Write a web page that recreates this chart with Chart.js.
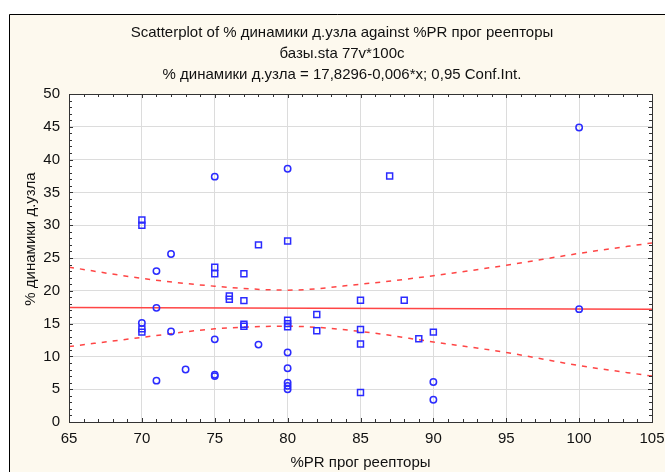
<!DOCTYPE html>
<html>
<head>
<meta charset="utf-8">
<script src="https://cdn.jsdelivr.net/npm/chart.js@4.4.1/dist/chart.umd.min.js"></script>
<style>
  html, body { margin: 0; padding: 0; background: #fff; }
  #wrap { width: 665px; height: 472px; }
</style>
</head>
<body>
<div id="wrap"><canvas id="plot" width="665" height="472"></canvas></div>
<script>
// observations drawn as circles
const circleX = [72, 75, 71, 71, 70, 72, 75, 78, 73, 75, 75, 71, 80, 80, 80, 80, 80, 80, 90, 90, 100, 100];
const circleY = [25.6, 37.4, 23.0, 17.4, 15.1, 13.8, 12.6, 11.8, 8.0, 7.2, 7.0, 6.3, 38.6, 10.6, 8.2, 6.0, 5.5, 5.0, 6.1, 3.4, 44.9, 17.2];
// observations drawn as squares
const squareX = [70, 70, 78, 75, 75, 77, 76, 76, 77, 70, 70, 77, 77, 87, 80, 85, 88, 82, 80, 80, 80, 82, 85, 89, 90, 85, 85];
const squareY = [30.8, 30.0, 27.0, 23.6, 22.6, 22.6, 19.2, 18.7, 18.5, 14.2, 13.7, 14.9, 14.6, 37.5, 27.6, 18.55, 18.55, 16.4, 15.5, 15.0, 14.5, 13.9, 14.1, 12.7, 13.7, 11.9, 4.5];
// regression line and 0.95 confidence band
const fitX = [65, 105];
const fitY = [17.44, 17.2];
const bandX = [65, 70, 75, 80, 85, 90, 95, 100, 105];
const upperBand = [23.6, 21.9, 20.7, 20.1, 21.0, 22.3, 23.9, 25.7, 27.3];
const lowerBand = [11.5, 12.9, 14.2, 14.6, 13.8, 12.2, 10.6, 8.6, 7.0];

const titleLines = [
  'Scatterplot of % динамики д.узла against %PR прог реепторы',
  'базы.sta 77v*100c',
  '% динамики д.узла = 17,8296-0,006*x; 0,95 Conf.Int.'
];
const xTitle = '%PR прог реепторы';
const yTitle = '% динамики д.узла';

const FONT = 'Liberation Sans, Arial, sans-serif';
const pts = (xs, ys) => xs.map((x, i) => ({ x: x, y: ys[i] }));

const frame = {
  id: 'frame',
  beforeDraw(chart) {
    const { ctx, chartArea: a } = chart;
    ctx.save();
    ctx.fillStyle = '#ffffff';
    ctx.fillRect(0, 0, chart.width, chart.height);
    ctx.fillStyle = '#fdf9ee';
    ctx.fillRect(9, 14, chart.width - 9, chart.height - 14);
    ctx.strokeStyle = '#000';
    ctx.lineWidth = 1;
    ctx.beginPath();
    ctx.moveTo(9.5, chart.height);
    ctx.lineTo(9.5, 14.5);
    ctx.lineTo(chart.width, 14.5);
    ctx.stroke();
    ctx.fillStyle = '#ffffff';
    ctx.fillRect(a.left, a.top, a.right - a.left, a.bottom - a.top);
    ctx.restore();
  },
  afterDraw(chart) {
    const { ctx, chartArea: a, scales } = chart;
    ctx.save();
    ctx.strokeStyle = '#333';
    ctx.lineWidth = 1;
    ctx.strokeRect(Math.round(a.left) + 0.5, Math.round(a.top) + 0.5,
      Math.round(a.right - a.left), Math.round(a.bottom - a.top));
    // minor ticks, pointing inward
    ctx.beginPath();
    for (let v = 65; v <= 105; v++) {
      const px = Math.round(scales.x.getPixelForValue(v)) + 0.5;
      const len = v % 5 === 0 ? 4 : 3;
      ctx.moveTo(px, a.bottom); ctx.lineTo(px, a.bottom - len);
      ctx.moveTo(px, a.top); ctx.lineTo(px, a.top + len);
    }
    for (let v = 0; v <= 50; v++) {
      const py = Math.round(scales.y.getPixelForValue(v)) + 0.5;
      const len = v % 5 === 0 ? 4 : 3;
      ctx.moveTo(a.left, py); ctx.lineTo(a.left + len, py);
      ctx.moveTo(a.right, py); ctx.lineTo(a.right - len, py);
    }
    ctx.stroke();
    // y axis title
    ctx.fillStyle = '#111';
    ctx.font = '15px ' + FONT;
    ctx.textAlign = 'center';
    ctx.textBaseline = 'middle';
    ctx.translate(31, 239);
    ctx.rotate(-Math.PI / 2);
    ctx.fillText(yTitle, 0, 0);
    ctx.restore();
  }
};

const markerStyle = {
  borderColor: '#2b2bff',
  backgroundColor: 'transparent',
  pointBorderWidth: 1.5,
  showLine: false
};
const lineStyle = {
  borderColor: '#ff4545',
  borderWidth: 1.5,
  pointRadius: 0,
  showLine: true,
  fill: false
};

new Chart(document.getElementById('plot').getContext('2d'), {
  type: 'scatter',
  data: {
    datasets: [
      Object.assign({ label: 'circles', data: pts(circleX, circleY), pointStyle: 'circle', pointRadius: 3.2, order: 0 }, markerStyle),
      Object.assign({ label: 'squares', data: pts(squareX, squareY), pointStyle: 'rect', pointRadius: 4.2, order: 0 }, markerStyle),
      Object.assign({ label: 'fit', data: pts(fitX, fitY), order: 1 }, lineStyle),
      Object.assign({ label: 'upper', data: pts(bandX, upperBand), borderDash: [5, 6], cubicInterpolationMode: 'monotone', order: 1 }, lineStyle),
      Object.assign({ label: 'lower', data: pts(bandX, lowerBand), borderDash: [5, 6], cubicInterpolationMode: 'monotone', order: 1 }, lineStyle)
    ]
  },
  options: {
    responsive: false,
    animation: false,
    layout: { padding: { left: 32, right: 13, top: 0, bottom: 0 } },
    plugins: {
      legend: { display: false },
      tooltip: { enabled: false },
      title: {
        display: true,
        text: titleLines,
        color: '#111',
        font: { family: FONT, size: 15, weight: 'normal', lineHeight: 1.4 },
        padding: { top: 22, bottom: 9 }
      }
    },
    scales: {
      x: {
        type: 'linear',
        min: 65, max: 105,
        afterFit: s => { s.height = 50; s.paddingRight = 13; s.paddingLeft = 0; },
        ticks: { stepSize: 5, color: '#111', padding: 8, font: { family: FONT, size: 15 } },
        grid: { color: '#dcdcdc', drawTicks: false },
        border: { display: false },
        title: { display: true, text: xTitle, color: '#111', font: { family: FONT, size: 15 }, padding: { top: 0, bottom: 0 } }
      },
      y: {
        type: 'linear',
        min: 0, max: 50,
        afterFit: s => { s.width = 37; },
        ticks: { stepSize: 5, color: '#111', padding: 9, font: { family: FONT, size: 15 } },
        grid: { color: '#dcdcdc', drawTicks: false },
        border: { display: false }
      }
    }
  },
  plugins: [frame]
});
</script>
</body>
</html>
